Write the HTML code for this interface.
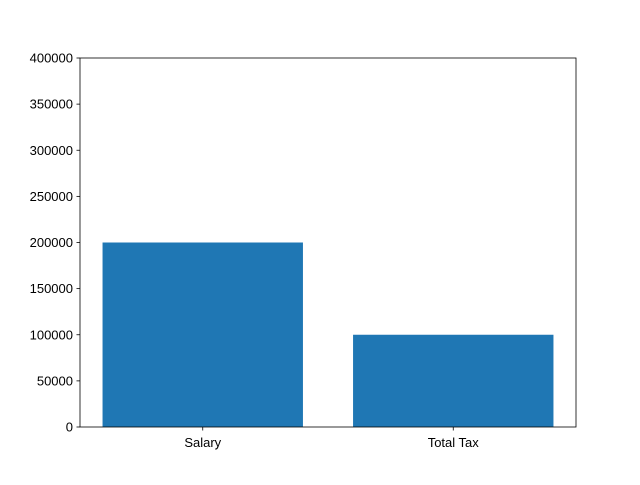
<!DOCTYPE html>
<html><head><meta charset="utf-8"><style>
body{margin:0;background:#fff;}
svg text{font-family:"Liberation Sans","DejaVu Sans",sans-serif;font-size:13px;fill:#000;}
</style></head><body>
<svg id="chart" width="640" height="480" xmlns="http://www.w3.org/2000/svg"></svg>
<script>
const categories = ["Salary", "Total Tax"];
const values = [200000, 100000];
const yTicks = [0, 50000, 100000, 150000, 200000, 250000, 300000, 350000, 400000];

const svg = document.getElementById('chart');
const NS = 'http://www.w3.org/2000/svg';
const L = 80, R = 576, T = 58, B = 427;
const xMin = -0.49, xMax = 1.49, yMin = 0, yMax = 400000;
const xs = v => L + (v - xMin) / (xMax - xMin) * (R - L);
const ys = v => B - (v - yMin) / (yMax - yMin) * (B - T);
function mk(tag, attrs, parent) {
  const e = document.createElementNS(NS, tag);
  for (const k in attrs) e.setAttribute(k, attrs[k]);
  (parent || svg).appendChild(e);
  return e;
}
categories.forEach((c, i) => {
  const b = mk('rect', {x: xs(i - 0.4), y: ys(values[i]), width: xs(i + 0.4) - xs(i - 0.4), height: ys(0) - ys(values[i]), fill: '#1f77b4'});
  
  
  const tk = mk('line', {x1: xs(i), x2: xs(i), y1: B, y2: B + 3.5, stroke: '#000', 'stroke-width': 0.8});
  
  
  const t = mk('text', {x: xs(i), y: B + 20, 'text-anchor': 'middle'});
  t.textContent = c;
  
  
});
yTicks.forEach(v => {
  const tk = mk('line', {x1: L - 3.5, x2: L, y1: ys(v), y2: ys(v), stroke: '#000', 'stroke-width': 0.8});
  
  
  const t = mk('text', {x: L - 7, y: ys(v) + 4.5, 'text-anchor': 'end'});
  t.textContent = v;
  
  
});
const frame = mk('rect', {x: L, y: T, width: R - L, height: B - T, fill: 'none', stroke: '#000', 'stroke-width': 0.8});


</script>
</body></html>
